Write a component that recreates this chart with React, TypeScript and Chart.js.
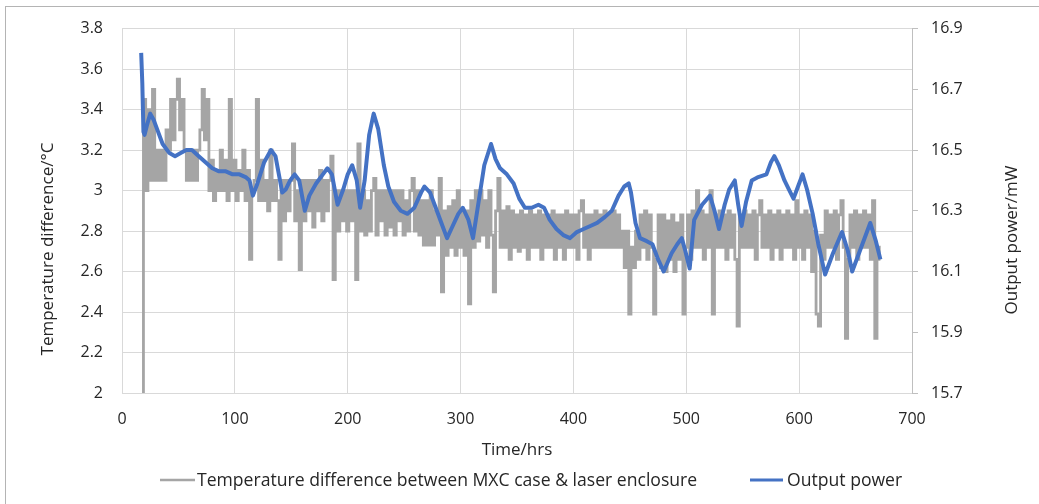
import React, { useEffect, useRef } from "react";
import { Chart, registerables } from "chart.js";

Chart.register(...registerables);

// ---------- texts ----------
const X_TITLE = "Time/hrs";
const TEMP_TITLE = "Temperature difference/°C";
const POWER_TITLE = "Output power/mW";
const TEMP_LABEL = "Temperature difference between MXC case & laser enclosure";
const POWER_LABEL = "Output power";

// ---------- tick values ----------
const X_TICKS = [0, 100, 200, 300, 400, 500, 600, 700];
const TEMP_TICKS = [2, 2.2, 2.4, 2.6, 2.8, 3, 3.2, 3.4, 3.6, 3.8];
const POWER_TICKS = [15.7, 15.9, 16.1, 16.3, 16.5, 16.7, 16.9];

// ---------- output power (right axis) ----------
const powerHours = [
  17, 18, 19, 20, 22, 25, 28, 32, 36, 42,
  47, 52, 57, 62, 68, 74, 80, 86, 92, 98,
  104, 110, 113, 116, 120, 126, 132, 136, 142, 145,
  149, 153, 157, 162, 166, 172, 178, 182, 186, 191,
  196, 200, 204, 208, 211, 215, 219, 223, 227, 232,
  236, 241, 247, 253, 259, 265, 268, 273, 278, 283,
  288, 293, 298, 302, 307, 311, 316, 321, 327, 331,
  335, 341, 347, 352, 357, 363, 369, 374, 379, 385,
  391, 397, 403, 409, 415, 421, 428, 434, 440, 445,
  449, 451, 455, 459, 465, 470, 475, 480, 487, 492,
  496, 499, 503, 507, 514, 521, 525, 529, 534, 538,
  543, 546, 549, 553, 558, 563, 567, 571, 575, 578,
  582, 587, 591, 595, 599, 603, 607, 612, 617, 623,
  630, 638, 643, 647, 655, 663, 668, 672,
];
const powerValues = [
  16.82, 16.72, 16.56, 16.55, 16.58, 16.62, 16.6, 16.56, 16.52, 16.49,
  16.48, 16.49, 16.5, 16.5, 16.48, 16.46, 16.44, 16.43, 16.43, 16.42,
  16.42, 16.41, 16.4, 16.35, 16.39, 16.46, 16.5, 16.48, 16.36, 16.37,
  16.4, 16.42, 16.4, 16.3, 16.35, 16.39, 16.42, 16.44, 16.42, 16.32,
  16.37, 16.42, 16.45, 16.4, 16.31, 16.4, 16.55, 16.62, 16.57, 16.45,
  16.38, 16.33, 16.3, 16.29, 16.31, 16.36, 16.38, 16.36, 16.31, 16.26,
  16.21, 16.25, 16.29, 16.31, 16.27, 16.21, 16.33, 16.45, 16.52, 16.47,
  16.44, 16.42, 16.39, 16.34, 16.31, 16.31, 16.32, 16.31, 16.27, 16.24,
  16.22, 16.21, 16.23, 16.24, 16.25, 16.26, 16.28, 16.3, 16.35, 16.38,
  16.39, 16.36, 16.26, 16.21, 16.2, 16.19, 16.14, 16.1, 16.16, 16.19,
  16.21, 16.17, 16.11, 16.27, 16.32, 16.35, 16.3, 16.24, 16.32, 16.37,
  16.4, 16.32, 16.25, 16.33, 16.4, 16.41, 16.415, 16.42, 16.46, 16.48,
  16.45, 16.4, 16.37, 16.34, 16.38, 16.42, 16.37, 16.29, 16.19, 16.09,
  16.16, 16.23, 16.17, 16.1, 16.18, 16.26, 16.2, 16.14,
];

// ---------- temperature difference (left axis), sampled every 2 h from 18 h ----------
const tempStartHour = 18;
const tempStepHours = 2;
const tempValues = [
  // 18-36
  2.0, 3.45, 3.0, 3.4, 3.05, 3.5, 3.05, 3.2, 3.05, 3.2,
  // 38-56
  3.05, 3.3, 3.2, 3.45, 3.25, 3.45, 3.55, 3.3, 3.45, 3.2,
  // 58-76
  3.05, 3.2, 3.05, 3.2, 3.05, 3.2, 3.3, 3.5, 3.25, 3.45,
  // 78-96
  3.0, 3.15, 2.95, 3.1, 3.0, 3.2, 3.0, 3.15, 2.95, 3.45,
  // 98-116
  3.0, 3.15, 2.95, 3.1, 3.0, 3.2, 2.95, 3.1, 2.66, 3.0,
  // 118-136
  3.05, 3.45, 2.95, 3.15, 2.95, 3.05, 2.9, 3.2, 2.95, 3.05,
  // 138-156
  2.95, 2.66, 3.05, 2.85, 3.05, 2.9, 3.05, 3.23, 2.85, 3.0,
  // 158-176
  2.61, 3.05, 2.85, 3.05, 2.9, 3.05, 2.82, 3.05, 2.9, 3.1,
  // 178-196
  2.85, 3.05, 2.9, 3.05, 3.17, 2.56, 3.0, 2.8, 3.0, 2.85,
  // 198-216
  3.0, 2.8, 3.0, 2.85, 3.0, 2.56, 3.23, 2.8, 3.0, 2.78,
  // 218-236
  2.95, 2.8, 3.0, 3.06, 2.78, 3.0, 2.85, 3.0, 2.78, 3.0,
  // 238-256
  2.82, 3.0, 2.78, 3.0, 2.85, 3.0, 2.78, 2.95, 2.8, 3.0,
  // 258-276
  3.06, 2.8, 3.0, 2.78, 2.95, 2.73, 2.95, 2.73, 3.0, 2.73,
  // 278-296
  2.9, 2.78, 3.06, 2.5, 2.9, 2.68, 2.92, 2.72, 2.95, 2.68,
  // 298-316
  3.0, 2.72, 2.9, 2.68, 2.9, 2.44, 2.95, 2.72, 3.0, 2.75,
  // 318-336
  3.0, 2.78, 2.95, 2.72, 3.0, 2.78, 2.5, 2.9, 3.06, 2.72,
  // 338-356
  2.9, 2.72, 2.92, 2.66, 2.9, 2.72, 2.88, 2.7, 2.9, 2.72,
  // 358-376
  2.88, 2.66, 2.9, 2.72, 2.88, 2.72, 2.9, 2.66, 2.88, 2.72,
  // 378-396
  2.88, 2.72, 2.9, 2.66, 2.88, 2.72, 2.88, 2.66, 2.9, 2.72,
  // 398-416
  2.88, 2.72, 2.88, 2.66, 2.9, 2.95, 2.72, 2.88, 2.66, 2.88,
  // 418-436
  2.72, 2.9, 2.72, 2.88, 2.72, 2.9, 2.72, 2.88, 2.72, 2.9,
  // 438-456
  2.72, 2.88, 2.72, 2.8, 2.62, 2.8, 2.39, 2.72, 2.62, 2.8,
  // 458-476
  2.66, 2.88, 2.72, 2.9, 2.66, 2.88, 2.72, 2.39, 2.66, 2.88,
  // 478-496
  2.62, 2.88, 2.6, 2.85, 2.66, 2.88, 2.6, 2.84, 2.66, 2.88,
  // 498-516
  2.39, 2.72, 2.88, 2.66, 2.9, 2.72, 3.0, 2.72, 2.9, 2.66,
  // 518-536
  2.88, 2.72, 3.0, 2.39, 2.88, 2.72, 2.9, 2.72, 2.88, 2.66,
  // 538-556
  2.9, 2.72, 2.88, 2.66, 2.33, 2.88, 2.72, 2.9, 2.72, 2.88,
  // 558-576
  2.72, 2.9, 2.66, 2.88, 2.95, 2.72, 2.88, 2.72, 2.9, 2.66,
  // 578-596
  2.88, 2.72, 2.9, 2.66, 2.88, 2.72, 2.9, 2.72, 2.88, 2.66,
  // 598-616
  2.95, 2.72, 2.88, 2.66, 2.9, 2.72, 2.88, 2.6, 2.8, 2.39,
  // 618-636
  2.33, 2.78, 2.66, 2.9, 2.72, 2.88, 2.72, 2.9, 2.66, 2.88,
  // 638-656
  2.95, 2.72, 2.27, 2.66, 2.88, 2.72, 2.9, 2.66, 2.88, 2.72,
  // 658-672
  2.9, 2.72, 2.88, 2.66, 2.95, 2.27, 2.72, 2.66,
];

// ---------- styles ----------
const FONT = '"Open Sans", "DejaVu Sans", sans-serif';
const TEXT = "#262626";
const GRID = "#d9d9d9";
const AXIS = "#bfbfbf";
const GRAY = "#a5a5a5";
const BLUE = "#4472c4";
const W = 1039;
const H = 504;

const decorPlugin = {
  id: "decor",
  beforeDraw(chart: any) {
    const ctx = chart.ctx;
    ctx.save();
    ctx.fillStyle = "#ffffff";
    ctx.fillRect(0, 0, W, H);
    ctx.restore();
  },
  afterDraw(chart: any) {
    const ctx = chart.ctx;
    ctx.save();
    // outer chart border
    ctx.strokeStyle = "#b4b4b4";
    ctx.lineWidth = 1;
    ctx.strokeRect(5.5, 6.5, W + 10, H + 10);

    ctx.fillStyle = TEXT;
    ctx.font = `17px ${FONT}`;
    ctx.textAlign = "center";
    ctx.textBaseline = "alphabetic";
    // x title
    ctx.fillText(X_TITLE, 517, 455);
    // left title (reads bottom to top)
    ctx.save();
    ctx.translate(53, 249);
    ctx.rotate(-Math.PI / 2);
    ctx.fillText(TEMP_TITLE, 0, 0);
    ctx.restore();
    // right title (reads bottom to top)
    ctx.save();
    ctx.translate(1017, 240);
    ctx.rotate(-Math.PI / 2);
    ctx.fillText(POWER_TITLE, 0, 0);
    ctx.restore();

    // legend
    ctx.font = `17.6px ${FONT}`;
    ctx.lineCap = "butt";
    ctx.strokeStyle = GRAY;
    ctx.lineWidth = 2.5;
    ctx.beginPath();
    ctx.moveTo(160, 480);
    ctx.lineTo(195, 480);
    ctx.stroke();
    ctx.strokeStyle = BLUE;
    ctx.lineWidth = 3;
    ctx.beginPath();
    ctx.moveTo(750, 480);
    ctx.lineTo(783, 480);
    ctx.stroke();
    ctx.textAlign = "left";
    ctx.fillText(TEMP_LABEL, 197, 486);
    ctx.fillText(POWER_LABEL, 787, 486);
    ctx.restore();
  },
};

export default function App() {
  const canvasRef = useRef<HTMLCanvasElement | null>(null);

  useEffect(() => {
    const canvas = canvasRef.current;
    if (!canvas) return;
    const tempData = tempValues.map((v, i) => ({ x: tempStartHour + i * tempStepHours, y: v }));
    const powerData = powerHours.map((h, i) => ({ x: h, y: powerValues[i] }));

    const chart = new Chart(canvas, {
      type: "line",
      data: {
        datasets: [
          {
            label: TEMP_LABEL,
            data: tempData,
            yAxisID: "y",
            borderColor: GRAY,
            backgroundColor: GRAY,
            borderWidth: 2.8,
            pointRadius: 0,
            stepped: "middle",
            borderJoinStyle: "miter",
            order: 2,
          },
          {
            label: POWER_LABEL,
            data: powerData,
            yAxisID: "y1",
            borderColor: BLUE,
            backgroundColor: BLUE,
            borderWidth: 4,
            pointRadius: 0,
            tension: 0,
            borderJoinStyle: "round",
            order: 1,
          },
        ],
      },
      options: {
        responsive: false,
        animation: false,
        devicePixelRatio: 1,
        layout: { padding: { top: 22, left: 0, right: 0, bottom: 0 } },
        plugins: {
          legend: { display: false },
          tooltip: { enabled: false },
          title: { display: false },
        },
        scales: {
          x: {
            type: "linear",
            position: "bottom",
            min: 0,
            max: 700,
            afterBuildTicks: (s: any) => {
              s.ticks = X_TICKS.map((v) => ({ value: v }));
            },
            afterFit: (s: any) => {
              s.height = 111;
            },
            grid: { color: GRID, drawTicks: false, lineWidth: 1 },
            border: { display: false },
            ticks: {
              font: { family: FONT, size: 16 },
              color: TEXT,
              padding: 17,
              maxRotation: 0,
              autoSkip: false,
              callback: (v: any) => String(v),
            },
          },
          y: {
            type: "linear",
            position: "left",
            min: 2,
            max: 3.8,
            afterBuildTicks: (s: any) => {
              s.ticks = TEMP_TICKS.map((v) => ({ value: v }));
            },
            afterFit: (s: any) => {
              s.width = 122;
            },
            grid: { color: GRID, drawTicks: false, lineWidth: 1 },
            border: { display: false },
            ticks: {
              font: { family: FONT, size: 16 },
              color: TEXT,
              padding: 19,
              callback: (v: any) => String(Math.round(Number(v) * 10) / 10),
            },
          },
          y1: {
            type: "linear",
            position: "right",
            min: 15.7,
            max: 16.9,
            afterBuildTicks: (s: any) => {
              s.ticks = POWER_TICKS.map((v) => ({ value: v }));
            },
            afterFit: (s: any) => {
              s.width = 127;
            },
            grid: { drawOnChartArea: false, color: AXIS, drawTicks: true, tickLength: 6 },
            border: { display: true, color: AXIS },
            ticks: {
              font: { family: FONT, size: 16 },
              color: TEXT,
              padding: 13,
              callback: (v: any) => String(Math.round(Number(v) * 10) / 10),
            },
          },
        },
      },
      plugins: [decorPlugin],
    });
    return () => chart.destroy();
  }, []);

  return (
    <div style={{ position: "fixed", left: 0, top: 0, width: W, height: H, background: "#fff" }}>
      <canvas ref={canvasRef} width={W} height={H} style={{ width: W, height: H, display: "block" }} />
    </div>
  );
}
